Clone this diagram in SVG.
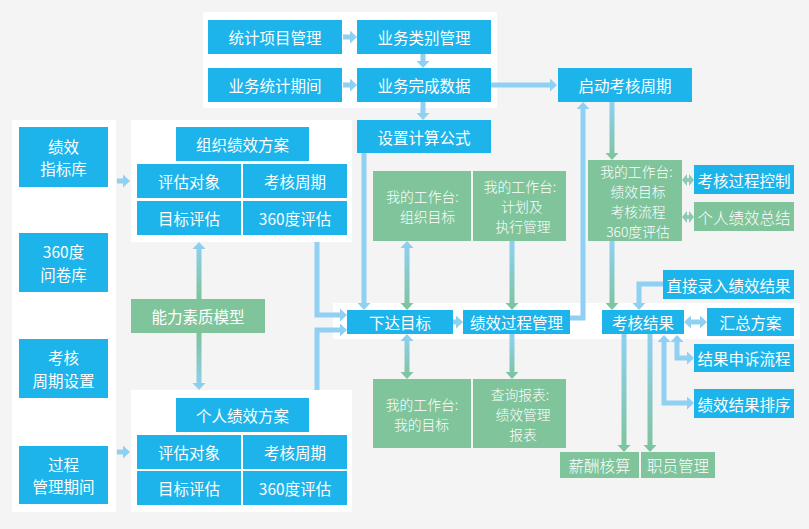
<svg xmlns="http://www.w3.org/2000/svg" width="809" height="529" viewBox="0 0 809 529">
<style>
.bg{fill:#f4f4f4}
.panel{fill:#ffffff}
.b{fill:#1cb4ea}
.g{fill:#7fc49a}
text{font-family:"Noto Sans CJK SC","Noto Sans",sans-serif;font-size:15.5px;fill:#ffffff;text-anchor:middle;dominant-baseline:central}
.gt{font-weight:300}
.ml{font-size:13.8px}
.c{fill:none;stroke:#8fd0f3;stroke-width:5;marker-end:url(#ah)}
.c2{marker-start:url(#ah)}
.gr{fill:url(#gBG)}
.rg{fill:url(#gGB)}
.dh{fill:#8ccab2}
</style>
<defs>
<marker id="ah" markerUnits="userSpaceOnUse" markerWidth="8" markerHeight="13" viewBox="0 0 8 13" refX="0.5" refY="6.5" orient="auto-start-reverse"><path d="M0,0 L7,6.5 L0,13 Z" fill="#8fd0f3"/></marker>
<linearGradient id="gBG" x1="0" y1="0" x2="0" y2="1"><stop offset="0" stop-color="#8fd0f3"/><stop offset="1" stop-color="#7cc49b"/></linearGradient>
<linearGradient id="gGB" x1="0" y1="0" x2="0" y2="1"><stop offset="0" stop-color="#7cc49b"/><stop offset="1" stop-color="#8fd0f3"/></linearGradient>
</defs>
<rect class="bg" x="0" y="0" width="809" height="529"/>
<g id="panels">
<rect class="panel" x="203" y="12" width="294" height="96"/>
<rect class="panel" x="12" y="120" width="104" height="392"/>
<rect class="panel" x="131" y="120" width="221" height="122"/>
<rect class="panel" x="131" y="390" width="221" height="122"/>
<rect class="panel" x="333" y="303" width="467" height="36"/>
</g>
<g id="connectors">
<path class="c" d="M343,37 H350.5"/>
<path class="c" d="M343,85 H350.5"/>
<path class="c" d="M423,54 V61.5"/>
<path class="c" d="M423,102 V113.5"/>
<path class="c" d="M491,85 H550.5"/>
<path class="c" d="M570,318 H583 V108.5"/>
<path class="c" d="M364,153 V303.5"/>
<path class="c" d="M453,322 H456.5"/>
<path class="c" d="M317,242 V315 H340.5"/>
<path class="c" d="M317,390 V330 H340.5"/>
<path class="c" d="M117,181 H123.5"/>
<path class="c" d="M117,452 H123.5"/>
<path class="c" d="M663,284 H639 V303.5"/>
<path class="c c2" d="M690.5,322 H700.5"/>
<path class="c c2" d="M677,341.5 V358 H687.5"/>
<path class="c c2" d="M664,341.5 V403 H687.5"/>
<path class="gr" d="M609.5,102 H614.5 V153 H618.5 L612,160 L605.5,153 H609.5 Z"/>
<path class="gr" d="M609.5,241 H614.5 V303 H618.5 L612,310 L605.5,303 H609.5 Z"/>
<path class="gr" d="M407,241 L413.5,248 H409.5 V303 H413.5 L407,310 L400.5,303 H404.5 V248 H400.5 Z"/>
<path class="gr" d="M509.5,241 H514.5 V303 H518.5 L512,310 L505.5,303 H509.5 Z"/>
<path class="gr" d="M407,334 L413.5,341 H409.5 V372 H413.5 L407,379 L400.5,372 H404.5 V341 H400.5 Z"/>
<path class="gr" d="M509.5,334 H514.5 V372 H518.5 L512,379 L505.5,372 H509.5 Z"/>
<path class="gr" d="M199,242 L205.5,249 H201.5 V299 H196.5 V249 H192.5 Z"/>
<path class="rg" d="M196.5,333 H201.5 V383 H205.5 L199,390 L192.5,383 H196.5 Z"/>
<path class="gr" d="M621.5,334 H626.5 V445 H630.5 L624,452 L617.5,445 H621.5 Z"/>
<path class="gr" d="M647.5,334 H652.5 V445 H656.5 L650,452 L643.5,445 H647.5 Z"/>
<path class="dh" d="M682,180 L687,174 V178 H689 V174 L694,180 L689,186 V182 H687 V186 Z"/>
<path class="dh" d="M682,217 L687,211 V215 H689 V211 L694,217 L689,223 V219 H687 V223 Z"/>
</g>
<g id="n-tjxm"><rect class="b" x="208" y="20" width="134" height="34"/><text x="275" y="37">统计项目管理</text></g>
<g id="n-ywtj"><rect class="b" x="208" y="68" width="134" height="34"/><text x="275" y="85">业务统计期间</text></g>
<g id="n-ywlb"><rect class="b" x="357" y="20" width="134" height="34"/><text x="424" y="37">业务类别管理</text></g>
<g id="n-ywwc"><rect class="b" x="357" y="68" width="134" height="34"/><text x="424" y="85">业务完成数据</text></g>
<g id="n-szjs"><rect class="b" x="357" y="120" width="134" height="33"/><text x="424" y="136.5">设置计算公式</text></g>
<g id="n-qdkh"><rect class="b" x="558" y="68" width="134" height="34"/><text x="625" y="85">启动考核周期</text></g>
<g id="n-jxzb"><rect class="b" x="19" y="127" width="89" height="60"/><text x="63.5" y="145.5">绩效<tspan x="63.5" dy="22.6">指标库</tspan></text></g>
<g id="n-wjk"><rect class="b" x="19" y="233" width="89" height="59"/><text x="63.5" y="251.2">360度<tspan x="63.5" dy="22.6">问卷库</tspan></text></g>
<g id="n-khzq"><rect class="b" x="19" y="339" width="89" height="59"/><text x="63.5" y="357.2">考核<tspan x="63.5" dy="22.6">周期设置</tspan></text></g>
<g id="n-gcgl"><rect class="b" x="19" y="446" width="89" height="58"/><text x="63.5" y="463.7">过程<tspan x="63.5" dy="22.6">管理期间</tspan></text></g>
<g id="n-zzfa"><rect class="b" x="176" y="127" width="133" height="34"/><text x="242.5" y="144">组织绩效方案</text></g>
<g id="n-zz1"><rect class="b" x="137" y="164" width="104" height="34"/><text x="189" y="181">评估对象</text></g>
<g id="n-zz2"><rect class="b" x="243" y="164" width="104" height="34"/><text x="295" y="181">考核周期</text></g>
<g id="n-zz3"><rect class="b" x="137" y="201" width="104" height="34"/><text x="189" y="218">目标评估</text></g>
<g id="n-zz4"><rect class="b" x="243" y="201" width="104" height="34"/><text x="295" y="218">360度评估</text></g>
<g id="n-grfa"><rect class="b" x="176" y="398" width="133" height="34"/><text x="242.5" y="415">个人绩效方案</text></g>
<g id="n-gr1"><rect class="b" x="137" y="435" width="104" height="34"/><text x="189" y="452">评估对象</text></g>
<g id="n-gr2"><rect class="b" x="243" y="435" width="104" height="34"/><text x="295" y="452">考核周期</text></g>
<g id="n-gr3"><rect class="b" x="137" y="471" width="104" height="34"/><text x="189" y="488">目标评估</text></g>
<g id="n-gr4"><rect class="b" x="243" y="471" width="104" height="34"/><text x="295" y="488">360度评估</text></g>
<g id="n-nlsz"><rect class="g" x="131" y="299" width="134" height="34"/><text x="198" y="316">能力素质模型</text></g>
<g id="n-xdmb"><rect class="b" x="347" y="310" width="106" height="24"/><text x="400" y="322">下达目标</text></g>
<g id="n-jxgc"><rect class="b" x="463" y="310" width="107" height="24"/><text x="516.5" y="322">绩效过程管理</text></g>
<g id="n-khjg"><rect class="b" x="602" y="310" width="82" height="24"/><text x="643" y="322">考核结果</text></g>
<g id="n-hzfa"><rect class="b" x="707" y="308" width="87" height="28"/><text x="750.5" y="322">汇总方案</text></g>
<g id="n-zjlr"><rect class="b" x="663" y="270" width="131" height="29"/><text x="728.5" y="284.5">直接录入绩效结果</text></g>
<g id="n-jgss"><rect class="b" x="694" y="344" width="100" height="28"/><text x="744" y="358">结果申诉流程</text></g>
<g id="n-jgpx"><rect class="b" x="694" y="389" width="100" height="29"/><text x="744" y="403.5">绩效结果排序</text></g>
<g id="n-khgc"><rect class="b" x="694" y="165" width="100" height="29"/><text x="744" y="179.5">考核过程控制</text></g>
<g id="n-grzj"><rect class="g" x="694" y="202" width="100" height="29"/><text class="gt" x="744" y="216.5">个人绩效总结</text></g>
<g id="n-xchs"><rect class="g" x="560" y="452" width="79" height="26"/><text class="gt" x="599.5" y="465">薪酬核算</text></g>
<g id="n-zygl"><rect class="g" x="641" y="452" width="74" height="26"/><text class="gt" x="678" y="465">职员管理</text></g>
<g id="n-wdzz"><rect class="g" x="373" y="171" width="98" height="70"/><text class="gt ml" x="422.5" y="196">我的工作台:<tspan x="427.5" dy="20.1">组织目标</tspan></text></g>
<g id="n-jhzx"><rect class="g" x="473" y="171" width="93" height="70"/><text class="gt ml" x="520" y="186">我的工作台:<tspan x="522" dy="20.1">计划及</tspan><tspan x="523" dy="20.1">执行管理</tspan></text></g>
<g id="n-jxmb"><rect class="g" x="588" y="160" width="94" height="81"/><text class="gt ml" x="636.5" y="170.5">我的工作台:<tspan x="638" dy="20.1">绩效目标</tspan><tspan x="638" dy="20.1">考核流程</tspan><tspan x="638" dy="20.1">360度评估</tspan></text></g>
<g id="n-wdmb"><rect class="g" x="373" y="379" width="98" height="69"/><text class="gt ml" x="422" y="403.5">我的工作台:<tspan x="421.5" dy="20.1">我的目标</tspan></text></g>
<g id="n-cxbb"><rect class="g" x="473" y="379" width="93" height="69"/><text class="gt ml" x="520" y="393.5">查询报表:<tspan x="523" dy="20.1">绩效管理</tspan><tspan x="523" dy="20.1">报表</tspan></text></g>
</svg>
